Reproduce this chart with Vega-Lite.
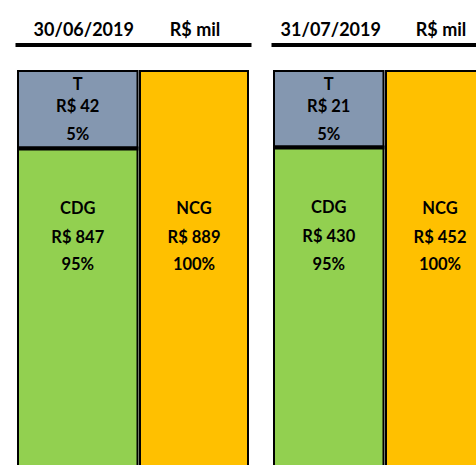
{
  "$schema": "https://vega.github.io/schema/vega-lite/v6.json",
  "padding": {"left": 17, "top": 21, "right": 0, "bottom": 0},
  "config": {
    "view": {"stroke": null},
    "font": "Lato",
    "locale": {"number": {"decimal": ",", "thousands": ".", "grouping": [3], "currency": ["R$ ", ""]}},
    "scale": {"bandPaddingInner": 0, "bandPaddingOuter": 0},
    "axis": {"domainColor": "black", "domainWidth": 4, "domainCap": "square", "ticks": false, "tickSize": 0, "grid": false, "labelFont": "Lato", "labelFontSize": 18, "labelFontWeight": "bold", "labelColor": "black", "labelAngle": 0, "labelPadding": 8.7, "labelBaseline": "alphabetic"},
    "bar": {"stroke": "black", "strokeWidth": 4},
    "text": {"font": "Lato", "fontSize": 16.5, "fontWeight": "bold", "color": "black", "baseline": "middle", "align": "center"}
  },
  "datasets": {
    "d": [
      {"date": "30/06/2019", "header": "30/06/2019", "cat": "T", "value": 42, "pct": 0.05},
      {"date": "30/06/2019", "header": "30/06/2019", "cat": "CDG", "value": 847, "pct": 0.95},
      {"date": "30/06/2019", "header": "R$ mil", "cat": "NCG", "value": 889, "pct": 1},
      {"date": "31/07/2019", "header": "31/07/2019", "cat": "T", "value": 21, "pct": 0.05},
      {"date": "31/07/2019", "header": "31/07/2019", "cat": "CDG", "value": 430, "pct": 0.95},
      {"date": "31/07/2019", "header": "R$ mil", "cat": "NCG", "value": 452, "pct": 1}
    ]
  },
  "data": {"name": "d"},
  "bounds": "full",
  "spacing": 24,
  "resolve": {"scale": {"x": "independent", "y": "independent"}, "axis": {"x": "independent", "y": "independent"}},
  "hconcat": [
    {
      "bounds": "flush",
      "spacing": 0,
      "resolve": {"scale": {"x": "independent", "y": "independent"}, "axis": {"x": "independent", "y": "independent"}},
      "hconcat": [
        {
          "width": 121.5,
          "height": 396.5,
          "transform": [{"filter": "datum.date == '30/06/2019' && datum.cat != 'NCG'"}],
          "encoding": {
            "x": {"field": "header", "type": "nominal", "title": null, "axis": {"orient": "top", "offset": 25.5, "labelOffset": 6}},
            "y": {"field": "value", "type": "quantitative", "stack": "normalize", "scale": {"domain": [0.7614, 1]}, "axis": null},
            "detail": {"field": "cat"},
            "order": {"field": "cat", "sort": "ascending"}
          },
          "layer": [
            {"mark": {"type": "bar", "clip": true}, "encoding": {"color": {"field": "cat", "type": "nominal", "scale": {"domain": ["T", "CDG", "NCG"], "range": ["#8497B0", "#92D050", "#FFC000"]}, "legend": null}}},
            {"mark": {"type": "text", "dy": 14.5}, "encoding": {"text": {"condition": {"test": "datum.cat == 'T'", "field": "cat", "type": "nominal"}, "value": ""}}},
            {"mark": {"type": "text", "dy": 37.2}, "encoding": {"text": {"condition": {"test": "datum.cat == 'T'", "field": "value", "type": "quantitative", "format": "$d"}, "value": ""}}},
            {"mark": {"type": "text", "dy": 65}, "encoding": {"text": {"condition": {"test": "datum.cat == 'T'", "field": "pct", "type": "quantitative", "format": ".0%"}, "value": ""}}},
            {"mark": {"type": "text", "dy": 60.1}, "encoding": {"text": {"condition": {"test": "datum.cat == 'CDG'", "field": "cat", "type": "nominal"}, "value": ""}}},
            {"mark": {"type": "text", "dy": 89.1}, "encoding": {"text": {"condition": {"test": "datum.cat == 'CDG'", "field": "value", "type": "quantitative", "format": "$d"}, "value": ""}}},
            {"mark": {"type": "text", "dy": 116.6}, "encoding": {"text": {"condition": {"test": "datum.cat == 'CDG'", "field": "pct", "type": "quantitative", "format": ".0%"}, "value": ""}}}
          ]
        },
        {
          "width": 110,
          "height": 396.5,
          "transform": [{"filter": "datum.date == '30/06/2019' && datum.cat == 'NCG'"}],
          "encoding": {
            "x": {"field": "header", "type": "nominal", "title": null, "axis": {"orient": "top", "offset": 25.5, "labelOffset": 1}},
            "y": {"field": "value", "type": "quantitative", "stack": "normalize", "scale": {"domain": [0.7614, 1]}, "axis": null},
            "detail": {"field": "cat"},
            "order": {"field": "cat", "sort": "ascending"}
          },
          "layer": [
            {"mark": {"type": "bar", "clip": true}, "encoding": {"color": {"field": "cat", "type": "nominal", "scale": {"domain": ["T", "CDG", "NCG"], "range": ["#8497B0", "#92D050", "#FFC000"]}, "legend": null}}},
            {"mark": {"type": "text", "dy": 138.5}, "encoding": {"text": {"field": "cat", "type": "nominal"}}},
            {"mark": {"type": "text", "dy": 167.5}, "encoding": {"text": {"field": "value", "type": "quantitative", "format": "$d"}}},
            {"mark": {"type": "text", "dy": 195}, "encoding": {"text": {"field": "pct", "type": "quantitative", "format": ".0%"}}}
          ]
        }
      ]
    },
    {
      "bounds": "flush",
      "spacing": 0,
      "resolve": {"scale": {"x": "independent", "y": "independent"}, "axis": {"x": "independent", "y": "independent"}},
      "hconcat": [
        {
          "width": 111.5,
          "height": 396.5,
          "transform": [{"filter": "datum.date == '31/07/2019' && datum.cat != 'NCG'"}],
          "encoding": {
            "x": {"field": "header", "type": "nominal", "title": null, "axis": {"orient": "top", "offset": 25.5, "labelOffset": 2}},
            "y": {"field": "value", "type": "quantitative", "stack": "normalize", "scale": {"domain": [0.7614, 1]}, "axis": null},
            "detail": {"field": "cat"},
            "order": {"field": "cat", "sort": "ascending"}
          },
          "layer": [
            {"mark": {"type": "bar", "clip": true}, "encoding": {"color": {"field": "cat", "type": "nominal", "scale": {"domain": ["T", "CDG", "NCG"], "range": ["#8497B0", "#92D050", "#FFC000"]}, "legend": null}}},
            {"mark": {"type": "text", "dy": 14.5}, "encoding": {"text": {"condition": {"test": "datum.cat == 'T'", "field": "cat", "type": "nominal"}, "value": ""}}},
            {"mark": {"type": "text", "dy": 37.2}, "encoding": {"text": {"condition": {"test": "datum.cat == 'T'", "field": "value", "type": "quantitative", "format": "$d"}, "value": ""}}},
            {"mark": {"type": "text", "dy": 65}, "encoding": {"text": {"condition": {"test": "datum.cat == 'T'", "field": "pct", "type": "quantitative", "format": ".0%"}, "value": ""}}},
            {"mark": {"type": "text", "dy": 61.1}, "encoding": {"text": {"condition": {"test": "datum.cat == 'CDG'", "field": "cat", "type": "nominal"}, "value": ""}}},
            {"mark": {"type": "text", "dy": 90.1}, "encoding": {"text": {"condition": {"test": "datum.cat == 'CDG'", "field": "value", "type": "quantitative", "format": "$d"}, "value": ""}}},
            {"mark": {"type": "text", "dy": 117.6}, "encoding": {"text": {"condition": {"test": "datum.cat == 'CDG'", "field": "pct", "type": "quantitative", "format": ".0%"}, "value": ""}}}
          ]
        },
        {
          "width": 110,
          "height": 396.5,
          "transform": [{"filter": "datum.date == '31/07/2019' && datum.cat == 'NCG'"}],
          "encoding": {
            "x": {"field": "header", "type": "nominal", "title": null, "axis": {"orient": "top", "offset": 25.5, "labelOffset": 1}},
            "y": {"field": "value", "type": "quantitative", "stack": "normalize", "scale": {"domain": [0.7614, 1]}, "axis": null},
            "detail": {"field": "cat"},
            "order": {"field": "cat", "sort": "ascending"}
          },
          "layer": [
            {"mark": {"type": "bar", "clip": true}, "encoding": {"color": {"field": "cat", "type": "nominal", "scale": {"domain": ["T", "CDG", "NCG"], "range": ["#8497B0", "#92D050", "#FFC000"]}, "legend": null}}},
            {"mark": {"type": "text", "dy": 138.5}, "encoding": {"text": {"field": "cat", "type": "nominal"}}},
            {"mark": {"type": "text", "dy": 167.5}, "encoding": {"text": {"field": "value", "type": "quantitative", "format": "$d"}}},
            {"mark": {"type": "text", "dy": 195}, "encoding": {"text": {"field": "pct", "type": "quantitative", "format": ".0%"}}}
          ]
        }
      ]
    }
  ]
}
